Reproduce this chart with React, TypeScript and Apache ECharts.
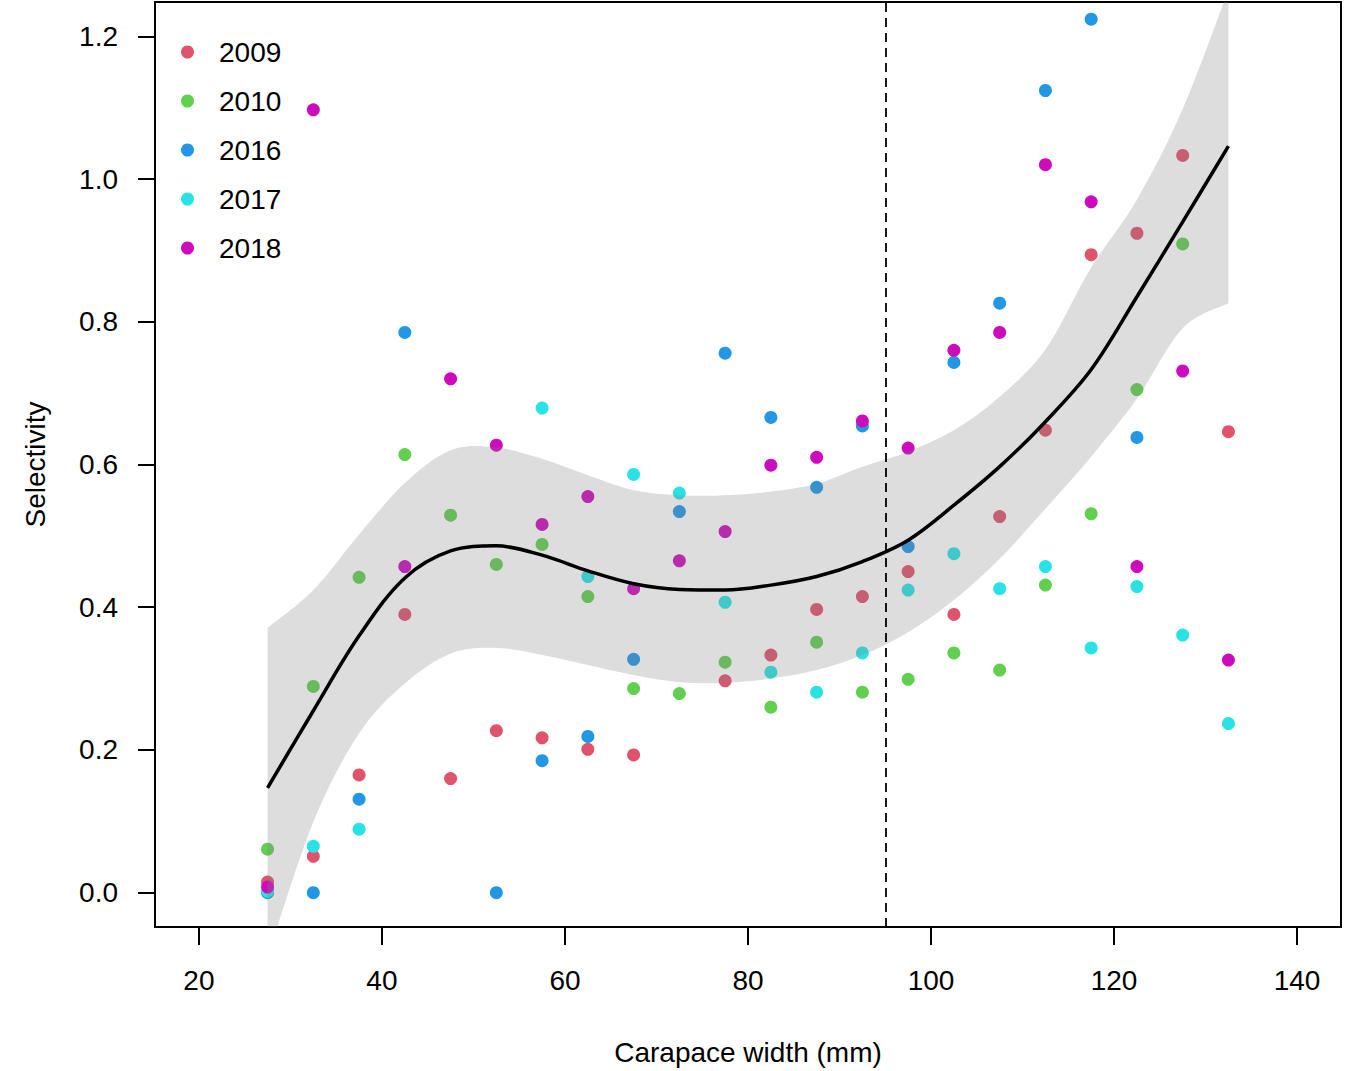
import React, { useEffect, useRef } from "react";
import * as echarts from "echarts";

// Carapace width bin midpoints (mm)
const widths = [27.5, 32.5, 37.5, 42.5, 47.5, 52.5, 57.5, 62.5, 67.5, 72.5, 77.5, 82.5, 87.5, 92.5, 97.5, 102.5, 107.5, 112.5, 117.5, 122.5, 127.5, 132.5];

const years = ["2009", "2010", "2016", "2017", "2018"];
const yearColors = ["#DF536B", "#61D04F", "#2297E6", "#28E2E5", "#CD0BBC"];

const sel2009 = [0.015, 0.051, 0.165, 0.390, 0.160, 0.227, 0.217, 0.201, 0.193, null, 0.297, 0.333, 0.397, 0.415, 0.450, 0.390, 0.527, 0.648, 0.894, 0.924, 1.033, 0.646];
const sel2010 = [0.061, 0.289, 0.442, 0.614, 0.529, 0.460, 0.488, 0.415, 0.286, 0.279, 0.323, 0.260, 0.351, 0.281, 0.299, 0.336, 0.312, 0.431, 0.531, 0.705, 0.909, null];
const sel2016 = [0.0, 0.0, 0.131, 0.785, null, 0.0, 0.185, 0.219, 0.327, 0.534, 0.756, 0.666, 0.568, 0.654, 0.485, 0.743, 0.826, 1.124, 1.224, 0.638, null, null];
const sel2017 = [0.002, 0.065, 0.089, null, null, null, 0.679, 0.443, 0.586, 0.560, 0.407, 0.309, 0.281, 0.336, 0.424, 0.475, 0.426, 0.457, 0.343, 0.429, 0.361, 0.237];
const sel2018 = [0.008, 1.097, null, 0.457, 0.720, 0.627, 0.516, 0.555, 0.426, 0.465, 0.506, 0.599, 0.610, 0.661, 0.623, 0.760, 0.785, 1.020, 0.968, 0.457, 0.731, 0.326];

// Smoothed fit and confidence band
const fitLine = [0.147, 0.255, 0.360, 0.441, 0.479, 0.486, 0.473, 0.451, 0.433, 0.425, 0.424, 0.431, 0.443, 0.464, 0.494, 0.543, 0.597, 0.660, 0.733, 0.835, 0.940, 1.046];
const fitUpper = [0.371, 0.424, 0.502, 0.574, 0.620, 0.624, 0.608, 0.585, 0.564, 0.557, 0.557, 0.562, 0.573, 0.597, 0.618, 0.648, 0.695, 0.761, 0.876, 0.971, 1.098, 1.265];
const fitLower = [-0.090, 0.099, 0.223, 0.293, 0.335, 0.343, 0.333, 0.319, 0.305, 0.295, 0.294, 0.300, 0.312, 0.333, 0.365, 0.410, 0.468, 0.538, 0.611, 0.692, 0.791, 0.826];

const cutoffWidth = 95;

const xTicks = [20, 40, 60, 80, 100, 120, 140];
const yTicks = [0, 0.2, 0.4, 0.6, 0.8, 1.0, 1.2];

const FONT = "'Liberation Sans', Arial, sans-serif";

function smoothSegments(pts: number[][]): string {
  // Catmull-Rom through points, as cubic bezier segments (no initial M)
  let d = "";
  const n = pts.length;
  for (let i = 0; i < n - 1; i++) {
    const p0 = pts[Math.max(i - 1, 0)];
    const p1 = pts[i];
    const p2 = pts[i + 1];
    const p3 = pts[Math.min(i + 2, n - 1)];
    const c1x = p1[0] + (p2[0] - p0[0]) / 6;
    const c1y = p1[1] + (p2[1] - p0[1]) / 6;
    const c2x = p2[0] - (p3[0] - p1[0]) / 6;
    const c2y = p2[1] - (p3[1] - p1[1]) / 6;
    d += ` C ${c1x} ${c1y} ${c2x} ${c2y} ${p2[0]} ${p2[1]}`;
  }
  return d;
}

export default function App() {
  const ref = useRef<HTMLDivElement>(null);

  useEffect(() => {
    document.body.style.margin = "0";
    if (!ref.current) return;
    const chart = echarts.init(ref.current, undefined, { renderer: "svg" });

    const yearData = [sel2009, sel2010, sel2016, sel2017, sel2018];
    const scatterSeries = years.map((yr, k) => ({
      name: yr,
      type: "scatter",
      symbol: "circle",
      symbolSize: 13,
      itemStyle: { color: yearColors[k], opacity: 1 },
      data: widths
        .map((x, i) => (yearData[k][i] == null ? null : [x, yearData[k][i]]))
        .filter((p) => p !== null),
      z: 2,
    }));

    const option: any = {
      animation: false,
      backgroundColor: "#ffffff",
      textStyle: { fontFamily: FONT },
      grid: {
        left: 155,
        right: 13,
        top: 2,
        bottom: 144,
        show: true,
        borderColor: "#000",
        borderWidth: 2,
        backgroundColor: "transparent",
      },
      legend: {
        data: years.map((y) => ({ name: y, icon: "circle" })),
        orient: "vertical",
        left: 181,
        top: 38,
        padding: 0,
        itemWidth: 13,
        itemHeight: 13,
        itemGap: 21,
        selectedMode: false,
        textStyle: {
          fontSize: 28,
          fontFamily: FONT,
          color: "#000",
          lineHeight: 28,
          padding: [0, 0, 0, 20],
        },
      },
      xAxis: {
        type: "value",
        min: 15.2,
        max: 144.8,
        axisLine: { show: false, onZero: false },
        axisTick: {
          show: true,
          customValues: xTicks,
          length: 18,
          lineStyle: { color: "#000", width: 2 },
        },
        axisLabel: {
          customValues: xTicks,
          fontSize: 28,
          fontFamily: FONT,
          color: "#000",
          margin: 39,
        },
        splitLine: { show: false },
        name: "Carapace width (mm)",
        nameLocation: "middle",
        nameGap: 111,
        nameTextStyle: { fontSize: 28, fontFamily: FONT, color: "#000" },
      },
      yAxis: {
        type: "value",
        min: -0.048,
        max: 1.248,
        axisLine: { show: false, onZero: false },
        axisTick: {
          show: true,
          customValues: yTicks,
          length: 17,
          lineStyle: { color: "#000", width: 2 },
        },
        axisLabel: {
          customValues: yTicks,
          fontSize: 28,
          fontFamily: FONT,
          color: "#000",
          margin: 37,
          formatter: (v: number) => v.toFixed(1),
        },
        splitLine: { show: false },
        name: "Selectivity",
        nameLocation: "middle",
        nameGap: 106,
        nameRotate: 90,
        nameTextStyle: { fontSize: 28, fontFamily: FONT, color: "#000" },
      },
      series: [
        ...scatterSeries,
        {
          name: "band",
          type: "custom",
          clip: true,
          silent: true,
          z: 3,
          data: widths.map((x, i) => [x, fitLower[i], fitUpper[i]]),
          encode: { x: 0, y: [1, 2] },
          renderItem: (params: any, api: any) => {
            if (params.dataIndex !== 0) return null;
            const up = widths.map((x, i) => api.coord([x, fitUpper[i]]));
            const lo = widths.map((x, i) => api.coord([x, fitLower[i]])).reverse();
            let d = `M ${up[0][0]} ${up[0][1]}`;
            d += smoothSegments(up);
            d += ` L ${lo[0][0]} ${lo[0][1]}`;
            d += smoothSegments(lo);
            d += " Z";
            return {
              type: "path",
              shape: { pathData: d },
              style: { fill: "rgba(128,128,128,0.27)", stroke: null },
            };
          },
        },
        {
          name: "fit",
          type: "line",
          smooth: 0.35,
          symbol: "none",
          silent: true,
          z: 4,
          lineStyle: { color: "#000", width: 3.5 },
          data: widths.map((x, i) => [x, fitLine[i]]),
          markLine: {
            silent: true,
            symbol: ["none", "none"],
            label: { show: false },
            lineStyle: { color: "#000", width: 1.8, type: [9, 6] },
            data: [{ xAxis: cutoffWidth }],
          },
        },
      ],
    };

    chart.setOption(option);
    return () => chart.dispose();
  }, []);

  return <div ref={ref} style={{ width: 1354, height: 1071 }} />;
}
